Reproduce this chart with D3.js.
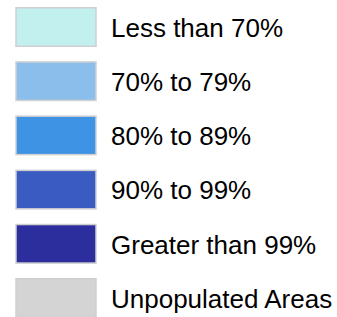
<!DOCTYPE html>
<html><head><meta charset="utf-8">
<script src="https://cdn.jsdelivr.net/npm/d3@7"></script>
<style>html,body{margin:0;padding:0;background:#fff;}svg{display:block;}</style>
</head><body>
<svg id="chart" width="337" height="317"></svg>
<script>
const categories = ["Less than 70%", "70% to 79%", "80% to 89%", "90% to 99%", "Greater than 99%", "Unpopulated Areas"];
const colors = ["#c1f0ee", "#8bbeeb", "#3e93e4", "#3a5bc1", "#2d2e9e", "#d4d4d4"];

const svg = d3.select("#chart");
const y = d3.scaleBand().domain(categories).range([7, 318]).paddingInner(0.262).paddingOuter(0);
const color = d3.scaleOrdinal().domain(categories).range(colors);

const g = svg.selectAll("g.item").data(categories).join("g")
  .attr("class", "item")
  .attr("transform", d => `translate(0,${y(d)})`);

g.append("rect")
  .attr("x", 16).attr("y", 0.75)
  .attr("width", 80).attr("height", y.bandwidth() - 1.5)
  .attr("fill", d => color(d))
  .attr("stroke", "#cfcfcf").attr("stroke-width", 1.5);

g.append("text")
  .attr("x", 111)
  .attr("y", y.bandwidth() / 2 + 9.8)
  .attr("font-family", "Liberation Sans, Arial, sans-serif")
  .attr("font-size", 26)
  .attr("fill", "#000")
  .text(d => d);
</script>
</body></html>
